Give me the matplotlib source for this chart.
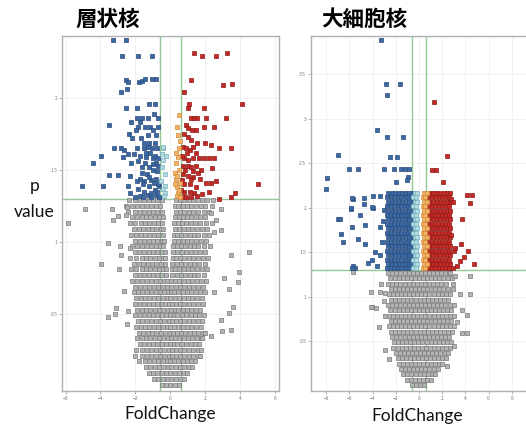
import matplotlib
matplotlib.use("Agg")
from matplotlib import pyplot as plt

plt.rcParams['font.family'] = ['Noto Sans CJK JP', 'DejaVu Sans']

# ---------------- 層状核 (left) ----------------
lam_title = "層状核"
# grey (not significant) cloud, row by row: (y, [x values])
lam_gray_rows = [
    (1.29, [-2.35, -2.0, -1.75, -1.5, -1.25, -1.0, -0.75, -0.5, 0.3, 0.55, 0.8, 1.05, 1.3, 1.55, 1.8, 2.1, 2.45]),
    (1.25, [-2.55, -2.2, -1.9, -1.6, -1.35, -1.1, -0.85, -0.6, 0.25, 0.45, 0.7, 0.95, 1.2, 1.45, 1.75, 2.0, 2.35]),
    (1.21, [-2.4, -2.05, -1.75, -1.5, -1.25, -1.0, -0.75, -0.5, 0.3, 0.55, 0.8, 1.05, 1.3, 1.6, 1.9, 2.2]),
    (1.17, [-2.2, -1.9, -1.65, -1.4, -1.15, -0.9, -0.65, -0.45, 0.25, 0.5, 0.7, 0.95, 1.2, 1.45, 1.7, 2.0]),
    (1.13, [-2.3, -2.0, -1.7, -1.45, -1.2, -0.95, -0.7, -0.5, 0.2, 0.45, 0.65, 0.9, 1.15, 1.4, 1.7, 2.05, 2.35]),
    (1.09, [-2.1, -1.8, -1.55, -1.3, -1.05, -0.8, -0.55, -0.4, 0.25, 0.5, 0.75, 1.0, 1.25, 1.5, 1.8, 2.1]),
    (1.05, [-2.25, -1.95, -1.7, -1.45, -1.2, -0.95, -0.7, -0.45, 0.2, 0.4, 0.6, 0.85, 1.1, 1.35, 1.6, 1.9, 2.2]),
    (1.01, [-2.0, -1.75, -1.5, -1.25, -1.0, -0.75, -0.5, -0.35, 0.2, 0.45, 0.7, 0.95, 1.2, 1.45, 1.75, 2.05]),
    (0.97, [-2.2, -1.9, -1.6, -1.35, -1.1, -0.85, -0.6, -0.4, 0.15, 0.35, 0.6, 0.85, 1.1, 1.35, 1.6, 1.9, 2.25]),
    (0.93, [-2.05, -1.8, -1.5, -1.25, -1.0, -0.75, -0.5, -0.3, 0.15, 0.4, 0.65, 0.9, 1.15, 1.4, 1.7, 2.0]),
    (0.89, [-2.3, -1.95, -1.65, -1.4, -1.15, -0.9, -0.65, -0.45, -0.3, 0.15, 0.3, 0.55, 0.8, 1.05, 1.3, 1.55, 1.85, 2.15]),
    (0.85, [-2.1, -1.8, -1.55, -1.3, -1.05, -0.8, -0.55, -0.3, 0.1, 0.35, 0.6, 0.85, 1.1, 1.35, 1.65, 1.95]),
    (0.81, [-2.25, -1.95, -1.65, -1.4, -1.15, -0.9, -0.65, -0.4, -0.25, 0.1, 0.25, 0.5, 0.75, 1.0, 1.25, 1.5, 1.8, 2.1]),
    (0.77, [-2.05, -1.75, -1.5, -1.25, -1.0, -0.75, -0.5, -0.25, 0.1, 0.35, 0.6, 0.85, 1.1, 1.35, 1.6, 1.9]),
    (0.73, [-2.2, -1.9, -1.6, -1.35, -1.1, -0.85, -0.6, -0.35, -0.2, 0.05, 0.25, 0.5, 0.75, 1.0, 1.25, 1.5, 1.75, 2.05]),
    (0.69, [-2.0, -1.75, -1.45, -1.2, -0.95, -0.7, -0.45, -0.2, 0.05, 0.3, 0.55, 0.8, 1.05, 1.3, 1.55, 1.85]),
    (0.65, [-2.1, -1.85, -1.6, -1.35, -1.1, -0.85, -0.6, -0.35, -0.15, 0.05, 0.2, 0.45, 0.7, 0.95, 1.2, 1.45, 1.7, 2.0]),
    (0.61, [-1.95, -1.7, -1.45, -1.2, -0.95, -0.7, -0.45, -0.2, 0.0, 0.25, 0.5, 0.75, 1.0, 1.25, 1.5, 1.8]),
    (0.57, [-2.0, -1.75, -1.5, -1.25, -1.0, -0.75, -0.5, -0.3, -0.1, 0.1, 0.3, 0.55, 0.8, 1.05, 1.3, 1.55, 1.85]),
    (0.53, [-1.9, -1.65, -1.4, -1.15, -0.9, -0.65, -0.4, -0.15, 0.05, 0.25, 0.45, 0.7, 0.95, 1.2, 1.45, 1.7]),
    (0.49, [-2.0, -1.75, -1.5, -1.25, -1.0, -0.75, -0.5, -0.25, 0.0, 0.2, 0.4, 0.65, 0.9, 1.15, 1.4, 1.65, 1.9]),
    (0.45, [-1.85, -1.6, -1.35, -1.1, -0.85, -0.6, -0.35, -0.1, 0.1, 0.3, 0.55, 0.8, 1.05, 1.3, 1.55, 1.8]),
    (0.41, [-1.95, -1.7, -1.45, -1.2, -0.95, -0.7, -0.45, -0.2, 0.0, 0.2, 0.45, 0.7, 0.95, 1.2, 1.45, 1.75]),
    (0.37, [-1.8, -1.55, -1.3, -1.05, -0.8, -0.55, -0.3, -0.05, 0.15, 0.35, 0.6, 0.85, 1.1, 1.35, 1.6, 1.85]),
    (0.33, [-1.9, -1.65, -1.4, -1.15, -0.9, -0.65, -0.4, -0.15, 0.05, 0.25, 0.5, 0.75, 1.0, 1.25, 1.5, 1.75]),
    (0.29, [-1.75, -1.5, -1.25, -1.0, -0.75, -0.5, -0.25, 0.0, 0.2, 0.4, 0.65, 0.9, 1.15, 1.4, 1.65]),
    (0.25, [-1.95, -1.65, -1.35, -1.1, -0.85, -0.6, -0.35, -0.1, 0.1, 0.3, 0.55, 0.8, 1.05, 1.3, 1.55, 1.75]),
    (0.21, [-2.0, -1.6, -1.35, -1.1, -0.85, -0.6, -0.35, -0.1, 0.1, 0.3, 0.55, 0.8, 1.05, 1.3, 1.55, 1.7]),
    (0.17, [-1.8, -1.45, -1.2, -0.95, -0.7, -0.45, -0.2, 0.0, 0.2, 0.45, 0.7, 0.95, 1.2, 1.4]),
    (0.13, [-1.4, -1.15, -0.9, -0.65, -0.4, -0.15, 0.05, 0.3, 0.55, 0.8, 1.05, 1.25]),
    (0.09, [-1.25, -1.0, -0.75, -0.5, -0.25, 0.0, 0.25, 0.5, 0.75, 0.95]),
    (0.05, [-0.95, -0.7, -0.45, -0.2, 0.05, 0.3, 0.55, 0.8]),
    (0.01, [-0.5, -0.25, 0.0, 0.25, 0.5]),
]
# scattered grey outliers
lam_gray_out_x = [-4.91, -5.83, -3.35, -3.29, -3.01, -2.47, -2.53, -3.58, -2.88, -2.34, -3.96, -2.82, -2.95,
                  -2.63, -3.10, -3.58, -3.15, -2.40, -2.50,
                  2.90, 2.32, 2.61, 2.90, 2.46, 4.46, 3.43, 3.94, 3.03, 3.85, 3.37, 2.51, 3.56, 3.33, 2.86,
                  2.95, 3.47, 2.0, 2.3, 1.8]
lam_gray_out_y = [1.23, 1.13, 1.23, 1.15, 1.18, 1.24, 1.19, 0.99, 0.97, 0.96, 0.85, 0.91, 0.81,
                  0.66, 0.54, 0.48, 0.50, 0.52, 0.43,
                  1.23, 1.20, 1.15, 1.08, 1.07, 0.93, 0.91, 0.79, 0.75, 0.72, 0.67, 0.65, 0.55, 0.51, 0.46,
                  0.38, 0.39, 0.37, 0.35, 0.33]

lam_blue_x = [-3.30, -2.53, -2.76, -1.87, -1.07, -2.53, -2.45, -1.80, -1.62, -1.46, -1.05, -0.82,
              -2.84, -2.46, -1.20, -0.87, -2.57, -1.92, -2.28, -1.92, -1.64, -1.30, -0.70,
              -3.49, -1.83, -1.43, -1.16, -0.69, -1.96, -1.01, -2.19, -1.68, -1.20, -0.91,
              -3.20, -2.81, -2.63, -1.92, -1.54, -1.31, -1.06, -0.78,
              -3.96, -2.72, -2.43, -2.11, -1.77, -1.39, -1.01,
              -4.44, -2.25, -1.87, -1.43, -1.20, -0.82,
              -3.49, -3.01, -2.30, -1.77, -1.49, -1.11, -0.82,
              -5.07, -3.87, -2.40, -1.87, -1.58, -1.23, -0.91, -0.63,
              -2.34, -1.77, -1.30, -0.82,
              -1.6, -1.35, -1.0, -0.75, -1.9, -1.25, -0.95, -0.7, -1.5, -1.1, -0.75, -2.0, -1.55, -1.1,
              -0.68, -1.4, -1.15, -0.9, -0.72, -1.65, -1.0, -0.7, -1.3, -0.85, -1.5, -2.35, -1.75, -0.95]
lam_blue_y = [2.40, 2.40, 2.29, 2.29, 2.29, 2.125, 2.11, 2.11, 2.12, 2.13, 2.13, 2.13,
              2.04, 2.06, 1.96, 1.96, 1.93, 1.93, 1.83, 1.86, 1.86, 1.86, 1.86,
              1.81, 1.80, 1.80, 1.80, 1.80, 1.78, 1.78, 1.72, 1.72, 1.69, 1.69,
              1.65, 1.65, 1.64, 1.65, 1.65, 1.66, 1.65, 1.65,
              1.60, 1.59, 1.61, 1.61, 1.60, 1.59, 1.58,
              1.55, 1.55, 1.56, 1.55, 1.52, 1.55,
              1.465, 1.465, 1.46, 1.44, 1.42, 1.43, 1.44,
              1.39, 1.39, 1.385, 1.37, 1.40, 1.385, 1.36, 1.39,
              1.34, 1.32, 1.325, 1.325,
              1.48, 1.47, 1.50, 1.49, 1.42, 1.45, 1.41, 1.40, 1.35, 1.34, 1.35, 1.31, 1.31, 1.31,
              1.31, 1.62, 1.62, 1.60, 1.58, 1.52, 1.54, 1.53, 1.74, 1.74, 1.69, 1.75, 1.83, 1.89]

lam_cyan_x = [-0.44, -0.25, -0.53, -0.34, -0.29, -0.44, -0.40, -0.48, -0.30, -0.45, -0.38, -0.50]
lam_cyan_y = [1.655, 1.60, 1.42, 1.39, 1.34, 1.66, 1.57, 1.52, 1.47, 1.37, 1.32, 1.61]

lam_orange_x = [0.48, 0.37, 0.52, 0.43, 0.33, 0.24, 0.33, 0.52, 0.37, 0.43,
                0.45, 0.50, 0.30, 0.48, 0.40, 0.28, 0.50, 0.35, 0.55]
lam_orange_y = [1.88, 1.80, 1.70, 1.59, 1.55, 1.48, 1.44, 1.41, 1.38, 1.34,
                1.74, 1.65, 1.62, 1.50, 1.46, 1.40, 1.36, 1.32, 1.31]

lam_red_x = [1.37, 1.80, 2.61, 3.24, 1.18, 2.99, 3.49, 0.77, 4.09, 1.05, 0.99, 1.94,
             1.18, 1.37, 1.52, 2.04, 3.18, 0.90, 1.0, 1.47, 1.94, 2.51,
             1.18, 1.50, 2.0, 2.32, 2.76, 3.47, 0.71, 0.90, 1.12, 1.27,
             0.80, 0.99, 1.27, 1.62, 1.89, 2.19, 2.51, 0.71, 0.99, 1.18, 1.47, 2.38,
             0.71, 0.99, 1.27, 1.66, 2.04, 2.32, 2.61, 4.99,
             0.75, 1.09, 1.37, 1.81, 2.80, 3.47, 3.70,
             0.65, 0.9, 1.2, 1.5, 0.8, 1.1, 1.45, 0.65, 0.85, 1.3, 1.6, 1.0, 0.65, 0.62, 2.2, 1.75,
             1.15, 0.95, 1.45, 0.75, 1.25]
lam_red_y = [2.31, 2.29, 2.29, 2.31, 2.125, 2.09, 2.10, 2.04, 1.96, 1.96, 1.93, 1.93,
             1.86, 1.86, 1.86, 1.86, 1.86, 1.81, 1.79, 1.78, 1.80, 1.80,
             1.71, 1.69, 1.69, 1.67, 1.65, 1.65, 1.66, 1.65, 1.64, 1.66,
             1.58, 1.57, 1.58, 1.58, 1.58, 1.58, 1.58, 1.53, 1.53, 1.52, 1.53, 1.51,
             1.47, 1.46, 1.45, 1.44, 1.41, 1.41, 1.42, 1.40,
             1.35, 1.35, 1.34, 1.33, 1.30, 1.31, 1.34,
             1.31, 1.31, 1.31, 1.32, 1.40, 1.40, 1.38, 1.60, 1.50, 1.49, 1.48, 1.73, 1.43, 1.36, 1.35,
             1.50, 1.44, 1.62, 1.62, 1.75, 1.78]

# ---------------- 大細胞核 (right) ----------------
dai_title = "大細胞核"
dai_gray_rows = [
    (1.27, [-2.7, -2.3, -1.95, -1.6, -1.25, -0.9, -0.55, -0.2, 0.15, 0.5, 0.85, 1.2, 1.55, 1.9, 2.25, 2.6]),
    (1.21, [-2.5, -2.1, -1.75, -1.4, -1.05, -0.7, -0.35, 0.0, 0.35, 0.7, 1.05, 1.4, 1.75, 2.1, 2.5, 2.85]),
    (1.15, [-2.65, -2.3, -1.95, -1.6, -1.25, -0.9, -0.55, -0.2, 0.15, 0.5, 0.85, 1.2, 1.55, 1.9, 2.3]),
    (1.09, [-2.45, -2.1, -1.75, -1.4, -1.05, -0.7, -0.35, 0.0, 0.35, 0.7, 1.05, 1.4, 1.75, 2.1, 2.5, 2.9]),
    (1.03, [-2.6, -2.25, -1.9, -1.55, -1.2, -0.85, -0.5, -0.15, 0.2, 0.55, 0.9, 1.25, 1.6, 1.95, 2.35, 2.7]),
    (0.97, [-2.4, -2.05, -1.7, -1.35, -1.0, -0.65, -0.3, 0.05, 0.4, 0.75, 1.1, 1.45, 1.8, 2.15, 2.5]),
    (0.91, [-2.7, -2.3, -1.95, -1.6, -1.25, -0.9, -0.55, -0.2, 0.15, 0.5, 0.85, 1.2, 1.55, 1.9, 2.25, 2.65, 3.0]),
    (0.85, [-2.5, -2.1, -1.75, -1.4, -1.05, -0.7, -0.35, 0.0, 0.35, 0.7, 1.05, 1.4, 1.75, 2.1, 2.45, 2.8]),
    (0.79, [-2.9, -2.6, -2.25, -1.9, -1.55, -1.2, -0.85, -0.5, -0.15, 0.2, 0.55, 0.9, 1.25, 1.6, 1.95, 2.3, 2.65, 3.0]),
    (0.73, [-2.45, -2.1, -1.75, -1.4, -1.05, -0.7, -0.35, 0.0, 0.35, 0.7, 1.05, 1.4, 1.75, 2.1, 2.45, 2.8]),
    (0.67, [-2.6, -2.25, -1.9, -1.55, -1.2, -0.85, -0.5, -0.15, 0.2, 0.55, 0.9, 1.25, 1.6, 1.95, 2.3, 2.7, 3.05]),
    (0.61, [-2.4, -2.05, -1.7, -1.35, -1.0, -0.65, -0.3, 0.05, 0.4, 0.75, 1.1, 1.45, 1.8, 2.15, 2.5, 2.85]),
    (0.55, [-2.3, -1.95, -1.6, -1.25, -0.9, -0.55, -0.2, 0.15, 0.5, 0.85, 1.2, 1.55, 1.9, 2.25, 2.6]),
    (0.49, [-2.15, -1.8, -1.45, -1.1, -0.75, -0.4, -0.05, 0.3, 0.65, 1.0, 1.35, 1.7, 2.05, 2.4, 2.75]),
    (0.43, [-2.2, -1.85, -1.5, -1.15, -0.8, -0.45, -0.1, 0.25, 0.6, 0.95, 1.3, 1.65, 2.0, 2.35, 2.65]),
    (0.37, [-2.0, -1.65, -1.3, -0.95, -0.6, -0.25, 0.1, 0.45, 0.8, 1.15, 1.5, 1.85, 2.2, 2.5]),
    (0.31, [-1.85, -1.5, -1.15, -0.8, -0.45, -0.1, 0.25, 0.6, 0.95, 1.3, 1.65, 2.0, 2.3]),
    (0.25, [-1.75, -1.4, -1.05, -0.7, -0.35, 0.0, 0.35, 0.7, 1.05, 1.4, 1.75, 2.0]),
    (0.19, [-1.55, -1.2, -0.85, -0.5, -0.15, 0.2, 0.55, 0.9, 1.25, 1.6]),
    (0.13, [-1.35, -1.0, -0.65, -0.3, 0.05, 0.4, 0.75, 1.1, 1.35]),
    (0.07, [-1.05, -0.7, -0.35, 0.0, 0.35, 0.7, 1.0]),
    (0.01, [-0.6, -0.25, 0.1, 0.4]),
]
dai_gray_out_x = [-4.17, -3.36, -2.95, -4.08, -3.7, -3.45, 3.53, 4.4, 4.1, 3.67, 3.67, 4.1, 3.1, 4.4,
                  2.67, -5.66, -4.13, -3.0, -2.9, -3.3, 3.3, 3.05, -2.55, 2.45, 2.9]
dai_gray_out_y = [1.05, 1.05, 1.04, 0.89, 0.88, 0.66, 1.03, 1.03, 0.80, 0.85, 0.59, 0.59, 1.23, 1.23,
                  1.27, 1.28, 0.89, 0.95, 0.40, 1.15, 0.72, 0.45, 0.30, 0.22, 1.15]

# dense significant band, row by row
dai_band_y = [1.32, 1.37, 1.42, 1.47, 1.52, 1.57, 1.62, 1.67, 1.72, 1.77, 1.82, 1.87, 1.92, 1.97, 2.02, 2.07,
              2.12, 2.17]
dai_blue_band_x = [-2.75, -2.45, -2.15, -1.85, -1.55, -1.25, -0.95, -0.7]
dai_cyan_band_x = [-0.5, -0.3]
dai_orange_band_x = [0.35, 0.55]
dai_red_band_x = [0.8, 1.1, 1.4, 1.7, 2.0, 2.3, 2.55]

dai_blue_x = [-3.28, -2.84, -1.64, -2.73, -3.65, -2.78, -1.41, -6.98, -2.49, -1.87,
              -6.0, -5.28, -3.02, -2.13, -1.55, -1.21, -0.86, -7.9, -0.92, -1.06, -8.0, -1.98,
              -5.72, -4.74, -3.99, -5.84, -5.8, -4.74, -3.94, -3.38, -5.86, -5.09, -4.08,
              -7.0, -6.8, -5.8, -4.66, -6.75, -6.52, -5.29, -4.66, -3.38,
              -4.37, -4.08, -5.66, -5.51, -3.65, -5.80, -3.36, -3.78, -3.1, -3.2, -3.05]
dai_blue_y = [3.88, 3.39, 3.39, 3.27, 2.88, 2.80, 2.80, 2.59, 2.57, 2.57,
              2.44, 2.44, 2.44, 2.44, 2.44, 2.44, 2.44, 2.34, 2.35, 2.31, 2.21, 2.29,
              2.10, 2.04, 2.00, 1.99, 2.11, 2.11, 2.13, 2.13, 2.00, 1.92, 2.01,
              1.87, 1.87, 1.79, 1.81, 1.71, 1.62, 1.65, 1.60, 1.78,
              1.38, 1.41, 1.35, 1.33, 1.35, 1.33, 1.47, 1.51, 1.85, 1.62, 1.98]

dai_red_x = [1.32, 2.4, 1.15, 1.47, 2.1, 4.12, 4.55, 4.4, 2.8, 2.95, 3.68,
             4.25, 3.9, 3.5, 3.0, 3.3, 4.7, 2.9, 3.1, 3.6, 2.75]
dai_red_y = [3.19, 2.58, 2.43, 2.43, 2.29, 2.15, 2.15, 2.05, 2.10, 2.07, 1.87,
             1.52, 1.45, 1.40, 1.52, 1.35, 1.37, 1.33, 1.55, 1.60, 1.70]

GRAY = dict(c="#b3b3b3", edgecolors="#7a7a7a")
BLUE = dict(c="#3b67a3", edgecolors="#2a4c7d")
RED = dict(c="#c42a25", edgecolors="#8f1c18")
CYAN = dict(c="#b5dbe0", edgecolors="#6fb0bd")
ORANGE = dict(c="#f1b46a", edgecolors="#d38a35")


def rows_to_xy(rows):
    xs, ys = [], []
    for y, row in rows:
        xs += row
        ys += [y] * len(row)
    return xs, ys


def band_xy(band_x, band_y):
    xs, ys = [], []
    for i, y in enumerate(band_y):
        shift = 0.12 if i % 2 else 0.0
        for x in band_x:
            xs.append(x + shift)
            ys.append(y)
    return xs, ys


def style_axes(ax, xlim, ylim, yticks):
    ax.set_xlim(*xlim)
    ax.set_ylim(*ylim)
    ax.set_xticks([-8, -6, -4, -2, 0, 2, 4, 6, 8])
    ax.set_yticks(yticks)
    ax.set_yticklabels([f"{t:g}" for t in yticks])
    ax.set_xlim(*xlim)
    ax.grid(color="#efefef", linewidth=0.6)
    ax.set_axisbelow(True)
    for s in ax.spines.values():
        s.set_color("#b0b0b0")
        s.set_linewidth(1.0)
    ax.tick_params(labelsize=3.5, labelcolor="#777777", color="#999999", length=2, width=0.5, pad=1.5)
    ax.axvline(-0.585, color="#93c993", lw=1.0, zorder=1)
    ax.axvline(0.585, color="#93c993", lw=1.0, zorder=1)
    ax.axhline(1.301, color="#93c993", lw=1.0, zorder=1)


fig = plt.figure(figsize=(5.26, 4.28), dpi=100)
ms = 9
ms_gray = 12
lw = 0.5

# left panel
ax1 = fig.add_axes([62 / 526, 37 / 428, 217 / 526, 355 / 428])
style_axes(ax1, (-6.2, 6.2), (-0.035, 2.43), [0.5, 1, 1.5, 2])
gx, gy = rows_to_xy(lam_gray_rows)
ax1.scatter(gx, gy, s=ms_gray, marker="s", linewidths=lw, zorder=2, **GRAY)
ax1.scatter(lam_gray_out_x, lam_gray_out_y, s=ms_gray, marker="s", linewidths=lw, zorder=2, **GRAY)
ax1.scatter(lam_blue_x, lam_blue_y, s=ms, marker="s", linewidths=lw, zorder=3, **BLUE)
ax1.scatter(lam_red_x, lam_red_y, s=ms, marker="s", linewidths=lw, zorder=3, **RED)
ax1.scatter(lam_cyan_x, lam_cyan_y, s=ms, marker="s", linewidths=lw, zorder=3, **CYAN)
ax1.scatter(lam_orange_x, lam_orange_y, s=ms, marker="s", linewidths=lw, zorder=3, **ORANGE)

# right panel (cut off at the right edge of the picture)
ax2 = fig.add_axes([311 / 526, 37 / 428, 229 / 526, 355 / 428])
style_axes(ax2, (-9.31, 10.43), (-0.056, 3.93), [0.5, 1, 1.5, 2, 2.5, 3, 3.5])
gx, gy = rows_to_xy(dai_gray_rows)
ax2.scatter(gx, gy, s=ms_gray, marker="s", linewidths=lw, zorder=2, **GRAY)
ax2.scatter(dai_gray_out_x, dai_gray_out_y, s=ms_gray, marker="s", linewidths=lw, zorder=2, **GRAY)
bx, by = band_xy(dai_blue_band_x, dai_band_y)
ax2.scatter(bx, by, s=ms, marker="s", linewidths=lw, zorder=3, **BLUE)
ax2.scatter(dai_blue_x, dai_blue_y, s=ms, marker="s", linewidths=lw, zorder=3, **BLUE)
rx, ry = band_xy(dai_red_band_x, dai_band_y)
ax2.scatter(rx, ry, s=ms, marker="s", linewidths=lw, zorder=3, **RED)
ax2.scatter(dai_red_x, dai_red_y, s=ms, marker="s", linewidths=lw, zorder=3, **RED)
cx, cy = band_xy(dai_cyan_band_x, dai_band_y)
ax2.scatter(cx, cy, s=ms, marker="s", linewidths=lw, zorder=3, **CYAN)
ox, oy = band_xy(dai_orange_band_x, dai_band_y)
ax2.scatter(ox, oy, s=ms, marker="s", linewidths=lw, zorder=3, **ORANGE)

# titles and labels
fig.text(108 / 526, 1 - 19 / 428, lam_title, ha="center", va="center", fontsize=15.5, fontweight="bold")
fig.text(364 / 526, 1 - 19 / 428, dai_title, ha="center", va="center", fontsize=15.5, fontweight="bold")
lab = dict(ha="center", va="center", fontsize=12.5, family=["Lato", "DejaVu Sans"], color="#111111")
fig.text(35 / 526, 1 - 186 / 428, "p", **lab)
fig.text(34 / 526, 1 - 212 / 428, "value", **lab)
fig.text(170 / 526, 1 - 414 / 428, "FoldChange", **lab)
fig.text(417 / 526, 1 - 416 / 428, "FoldChange", **lab)

fig.savefig("out.png", dpi=100)
